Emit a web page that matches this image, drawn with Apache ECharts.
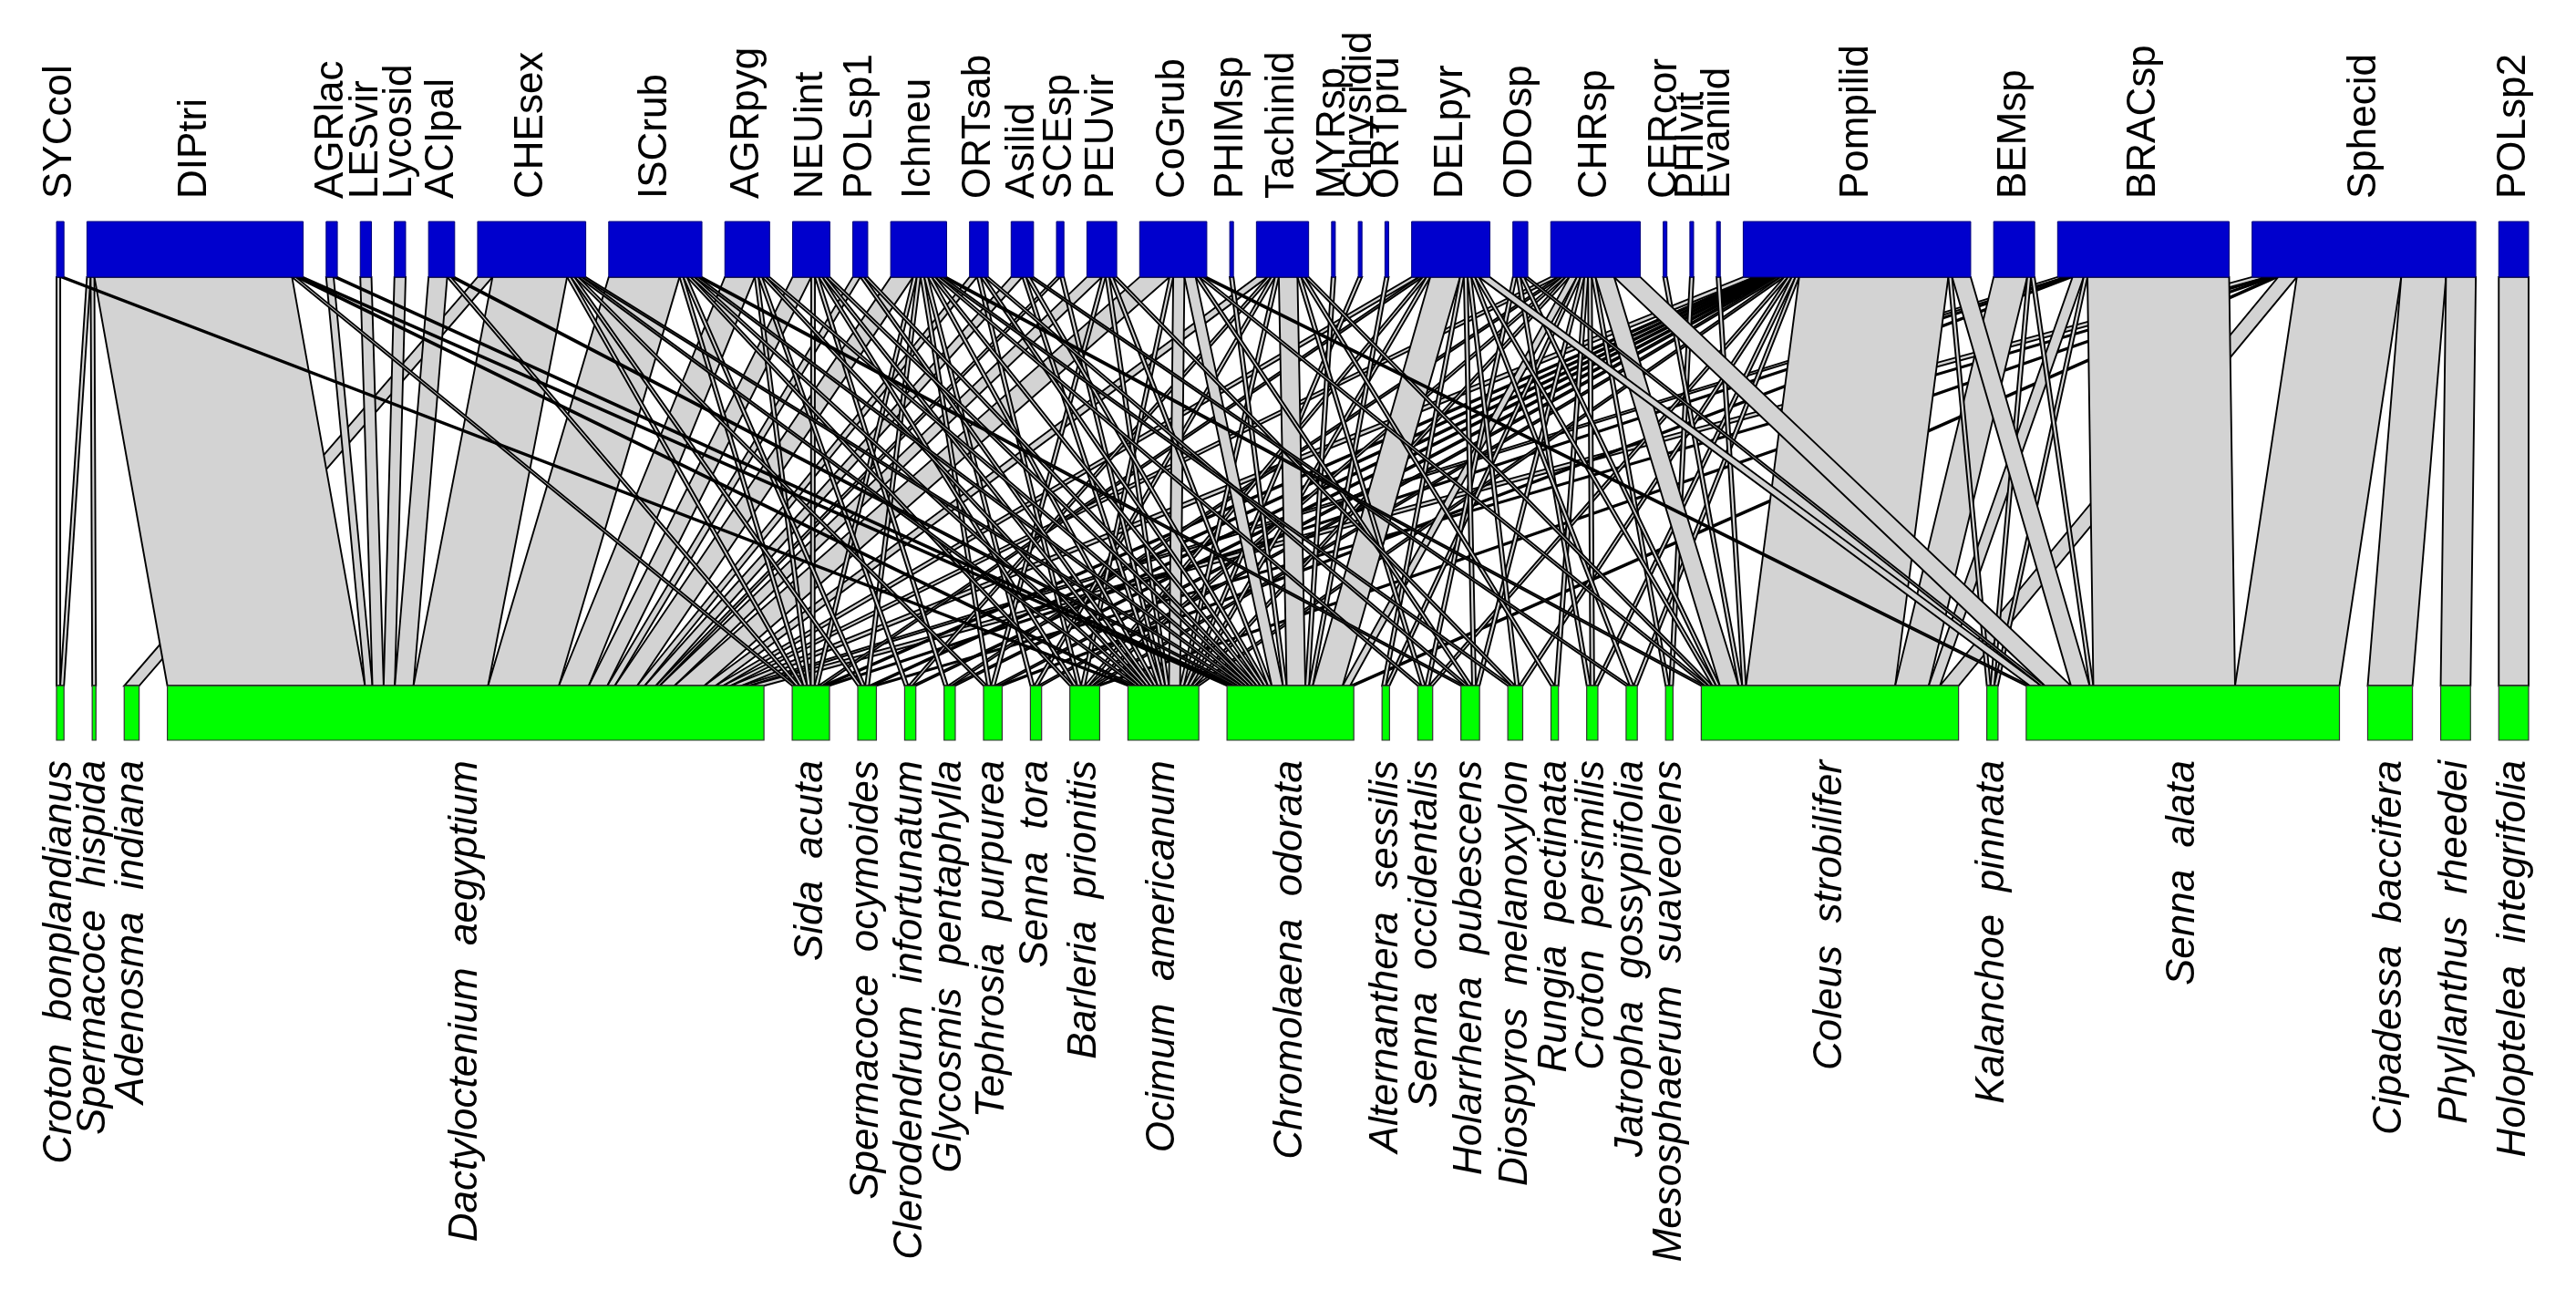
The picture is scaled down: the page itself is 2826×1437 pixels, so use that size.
<!DOCTYPE html>
<html><head><meta charset="utf-8">
<script src="https://cdn.jsdelivr.net/npm/echarts@6.0.0/dist/echarts.min.js"></script>
<style>html,body{margin:0;padding:0;background:#fff}#chart{width:2826px;height:1437px}</style>
</head><body><div id="chart"></div>
<script>
// Higher trophic level (visitors), left to right
const higherSpecies = ['SYCcol','DIPtri','AGRlac','LESvir','Lycosid','ACIpal','CHEsex','ISCrub','AGRpyg','NEUint','POLsp1','Ichneu','ORTsab','Asilid','SCEsp','PEUvir','CoGrub','PHIMsp','Tachinid','MYRsp','Chrysidid','ORTpru','DELpyr','ODOsp','CHRsp','CERcor','PHIvit','Evaniid','Pompilid','BEMsp','BRACsp','Sphecid','POLsp2'];
// Lower trophic level (plants), left to right
const lowerSpecies = ['Croton bonplandianus','Spermacoce hispida','Adenosma indiana','Dactyloctenium aegyptium','Sida acuta','Spermacoce ocymoides','Clerodendrum infortunatum','Glycosmis pentaphylla','Tephrosia purpurea','Senna tora','Barleria prionitis','Ocimum americanum','Chromolaena odorata','Alternanthera sessilis','Senna occidentalis','Holarrhena pubescens','Diospyros melanoxylon','Rungia pectinata','Croton persimilis','Jatropha gossypiifolia','Mesosphaerum suaveolens','Coleus strobilifer','Kalanchoe pinnata','Senna alata','Cipadessa baccifera','Phyllanthus rheedei','Holoptelea integrifolia'];
// Interactions: [visitor, plant, count]
const interactions = [
 ['SYCcol','Croton bonplandianus',1],['SYCcol','Ocimum americanum',1],
 ['DIPtri','Croton bonplandianus',1],['DIPtri','Spermacoce hispida',1],['DIPtri','Dactyloctenium aegyptium',53],['DIPtri','Sida acuta',1],['DIPtri','Ocimum americanum',1],['DIPtri','Chromolaena odorata',1],
 ['AGRlac','Dactyloctenium aegyptium',2],['AGRlac','Chromolaena odorata',1],
 ['LESvir','Dactyloctenium aegyptium',3],
 ['Lycosid','Dactyloctenium aegyptium',3],
 ['ACIpal','Dactyloctenium aegyptium',5],['ACIpal','Sida acuta',1],['ACIpal','Chromolaena odorata',1],
 ['CHEsex','Adenosma indiana',4],['CHEsex','Dactyloctenium aegyptium',20],['CHEsex','Sida acuta',1],['CHEsex','Spermacoce ocymoides',1],['CHEsex','Tephrosia purpurea',1],['CHEsex','Ocimum americanum',1],['CHEsex','Chromolaena odorata',1],
 ['ISCrub','Dactyloctenium aegyptium',19],['ISCrub','Sida acuta',1],['ISCrub','Spermacoce ocymoides',1],['ISCrub','Barleria prionitis',1],['ISCrub','Ocimum americanum',1],['ISCrub','Chromolaena odorata',1],['ISCrub','Holarrhena pubescens',1],
 ['AGRpyg','Dactyloctenium aegyptium',8],['AGRpyg','Sida acuta',1],['AGRpyg','Clerodendrum infortunatum',1],['AGRpyg','Ocimum americanum',1],['AGRpyg','Chromolaena odorata',1],
 ['NEUint','Dactyloctenium aegyptium',5],['NEUint','Sida acuta',1],['NEUint','Glycosmis pentaphylla',1],['NEUint','Barleria prionitis',1],['NEUint','Ocimum americanum',1],['NEUint','Chromolaena odorata',1],
 ['POLsp1','Dactyloctenium aegyptium',2],['POLsp1','Ocimum americanum',1],['POLsp1','Chromolaena odorata',1],
 ['Ichneu','Dactyloctenium aegyptium',6],['Ichneu','Sida acuta',1],['Ichneu','Spermacoce ocymoides',1],['Ichneu','Tephrosia purpurea',1],['Ichneu','Senna tora',1],['Ichneu','Ocimum americanum',1],['Ichneu','Chromolaena odorata',1],['Ichneu','Senna occidentalis',1],['Ichneu','Diospyros melanoxylon',1],['Ichneu','Coleus strobilifer',1],
 ['ORTsab','Dactyloctenium aegyptium',2],['ORTsab','Barleria prionitis',1],['ORTsab','Chromolaena odorata',1],['ORTsab','Holarrhena pubescens',1],
 ['Asilid','Dactyloctenium aegyptium',3],['Asilid','Ocimum americanum',1],['Asilid','Chromolaena odorata',1],['Asilid','Jatropha gossypiifolia',1],
 ['SCEsp','Dactyloctenium aegyptium',1],['SCEsp','Ocimum americanum',1],
 ['PEUvir','Dactyloctenium aegyptium',4],['PEUvir','Tephrosia purpurea',1],['PEUvir','Ocimum americanum',1],['PEUvir','Chromolaena odorata',1],['PEUvir','Diospyros melanoxylon',1],
 ['CoGrub','Dactyloctenium aegyptium',8],['CoGrub','Barleria prionitis',1],['CoGrub','Ocimum americanum',3],['CoGrub','Chromolaena odorata',3],['CoGrub','Holarrhena pubescens',1],['CoGrub','Coleus strobilifer',1],['CoGrub','Senna alata',1],
 ['PHIMsp','Chromolaena odorata',1],
 ['Tachinid','Dactyloctenium aegyptium',3],['Tachinid','Clerodendrum infortunatum',1],['Tachinid','Senna tora',1],['Tachinid','Ocimum americanum',1],['Tachinid','Chromolaena odorata',5],['Tachinid','Senna occidentalis',1],['Tachinid','Rungia pectinata',1],['Tachinid','Coleus strobilifer',1],
 ['MYRsp','Chromolaena odorata',1],
 ['Chrysidid','Ocimum americanum',1],
 ['ORTpru','Chromolaena odorata',1],
 ['DELpyr','Dactyloctenium aegyptium',2],['DELpyr','Sida acuta',1],['DELpyr','Barleria prionitis',1],['DELpyr','Ocimum americanum',1],['DELpyr','Chromolaena odorata',8],['DELpyr','Alternanthera sessilis',1],['DELpyr','Holarrhena pubescens',1],['DELpyr','Diospyros melanoxylon',1],['DELpyr','Jatropha gossypiifolia',1],['DELpyr','Coleus strobilifer',1],['DELpyr','Senna alata',3],
 ['ODOsp','Senna occidentalis',1],['ODOsp','Croton persimilis',1],['ODOsp','Coleus strobilifer',1],['ODOsp','Senna alata',1],
 ['CHRsp','Dactyloctenium aegyptium',2],['CHRsp','Glycosmis pentaphylla',1],['CHRsp','Barleria prionitis',1],['CHRsp','Ocimum americanum',1],['CHRsp','Chromolaena odorata',2],['CHRsp','Alternanthera sessilis',1],['CHRsp','Holarrhena pubescens',1],['CHRsp','Rungia pectinata',1],['CHRsp','Croton persimilis',1],['CHRsp','Mesosphaerum suaveolens',1],['CHRsp','Coleus strobilifer',5],['CHRsp','Senna alata',7],
 ['CERcor','Coleus strobilifer',1],
 ['PHIvit','Mesosphaerum suaveolens',1],
 ['Evaniid','Coleus strobilifer',1],
 ['Pompilid','Dactyloctenium aegyptium',3],['Pompilid','Sida acuta',1],['Pompilid','Spermacoce ocymoides',1],['Pompilid','Clerodendrum infortunatum',1],['Pompilid','Glycosmis pentaphylla',1],['Pompilid','Tephrosia purpurea',1],['Pompilid','Senna tora',1],['Pompilid','Barleria prionitis',1],['Pompilid','Ocimum americanum',1],['Pompilid','Senna occidentalis',1],['Pompilid','Diospyros melanoxylon',1],['Pompilid','Croton persimilis',1],['Pompilid','Jatropha gossypiifolia',1],['Pompilid','Coleus strobilifer',40],['Pompilid','Kalanchoe pinnata',1],['Pompilid','Senna alata',5],
 ['BEMsp','Coleus strobilifer',9],['BEMsp','Kalanchoe pinnata',1],['BEMsp','Senna alata',1],
 ['BRACsp','Dactyloctenium aegyptium',2],['BRACsp','Sida acuta',1],['BRACsp','Tephrosia purpurea',1],['BRACsp','Coleus strobilifer',3],['BRACsp','Kalanchoe pinnata',1],['BRACsp','Senna alata',38],
 ['Sphecid','Dactyloctenium aegyptium',4],['Sphecid','Spermacoce ocymoides',1],['Sphecid','Barleria prionitis',1],['Sphecid','Chromolaena odorata',1],['Sphecid','Coleus strobilifer',5],['Sphecid','Senna alata',28],['Sphecid','Cipadessa baccifera',12],['Sphecid','Phyllanthus rheedei',8],
 ['POLsp2','Holoptelea integrifolia',8]
];

// ---- layout constants (not data) ----
const SPAN_RATIO = 1.4227;          // total axis span relative to total interactions (leaves room for gaps)
const Y_HIGH_TOP = 1, Y_HIGH_BOT = 0.893, Y_LOW_TOP = 0.105, Y_LOW_BOT = 0;
const HIGH_COLOR = '#0000CD', LOW_COLOR = '#00FF00', LINK_COLOR = '#D3D3D3';

const nH = higherSpecies.length, nL = lowerSpecies.length;
const hIdx = {}, lIdx = {};
higherSpecies.forEach((n, i) => hIdx[n] = i);
lowerSpecies.forEach((n, i) => lIdx[n] = i);
const links = interactions.map(([h, l, v]) => ({ h: hIdx[h], l: lIdx[l], v }));
const hTot = new Array(nH).fill(0), lTot = new Array(nL).fill(0);
links.forEach(k => { hTot[k.h] += k.v; lTot[k.l] += k.v; });
const total = hTot.reduce((a, b) => a + b, 0);
const SPAN = total * SPAN_RATIO;
const gapH = (SPAN - total) / (nH - 1), gapL = (SPAN - lTot.reduce((a, b) => a + b, 0)) / (nL - 1);
const hStart = [], lStart = [];
let acc = 0; for (let i = 0; i < nH; i++) { hStart.push(acc); acc += hTot[i] + gapH; }
acc = 0; for (let j = 0; j < nL; j++) { lStart.push(acc); acc += lTot[j] + gapL; }
const hOff = hStart.slice();
links.slice().sort((a, b) => a.h - b.h || a.l - b.l).forEach(k => { k.hx0 = hOff[k.h]; hOff[k.h] += k.v; k.hx1 = hOff[k.h]; });
const lOff = lStart.slice();
const drawOrder = links.slice().sort((a, b) => a.l - b.l || a.h - b.h);
drawOrder.forEach(k => { k.lx0 = lOff[k.l]; lOff[k.l] += k.v; k.lx1 = lOff[k.l]; });

const chart = echarts.init(document.getElementById('chart'), null, { renderer: 'canvas' });
chart.setOption({
  animation: false,
  backgroundColor: '#ffffff',
  grid: { left: 62, right: 52, top: 243, bottom: 625 },
  xAxis: { type: 'value', min: 0, max: SPAN, show: false },
  yAxis: { type: 'value', min: 0, max: 1, show: false },
  series: [
    {
      type: 'custom', name: 'links', clip: false,
      dimensions: ['hx0', 'hx1', 'lx0', 'lx1'],
      encode: { x: [0, 1, 2, 3] },
      data: drawOrder.map(k => [k.hx0, k.hx1, k.lx0, k.lx1]),
      renderItem: (params, api) => {
        const pts = [
          api.coord([api.value(0), Y_HIGH_BOT]), api.coord([api.value(1), Y_HIGH_BOT]),
          api.coord([api.value(3), Y_LOW_TOP]), api.coord([api.value(2), Y_LOW_TOP])
        ];
        return { type: 'polygon', shape: { points: pts }, style: { fill: LINK_COLOR, stroke: '#000', lineWidth: 1.9 } };
      }
    },
    {
      type: 'custom', name: 'higher', clip: false,
      encode: { x: [0, 1] },
      data: higherSpecies.map((n, i) => [hStart[i], hStart[i] + hTot[i]]),
      renderItem: (params, api) => {
        const p0 = api.coord([api.value(0), Y_HIGH_TOP]), p1 = api.coord([api.value(1), Y_HIGH_BOT]);
        const cx = (p0[0] + p1[0]) / 2;
        return { type: 'group', children: [
          { type: 'rect', shape: { x: p0[0], y: p0[1], width: Math.max(p1[0] - p0[0], 1), height: p1[1] - p0[1] },
            style: { fill: HIGH_COLOR, stroke: '#00007a', lineWidth: 1 } },
          { type: 'text', x: cx, y: p0[1] - 25, rotation: Math.PI / 2,
            style: { text: higherSpecies[params.dataIndex], font: '44px "Liberation Sans", Arial, sans-serif', fill: '#000', align: 'left', verticalAlign: 'middle' } }
        ] };
      }
    },
    {
      type: 'custom', name: 'lower', clip: false,
      encode: { x: [0, 1] },
      data: lowerSpecies.map((n, j) => [lStart[j], lStart[j] + lTot[j]]),
      renderItem: (params, api) => {
        const p0 = api.coord([api.value(0), Y_LOW_TOP]), p1 = api.coord([api.value(1), Y_LOW_BOT]);
        const cx = (p0[0] + p1[0]) / 2;
        return { type: 'group', children: [
          { type: 'rect', shape: { x: p0[0], y: p0[1], width: Math.max(p1[0] - p0[0], 1), height: p1[1] - p0[1] },
            style: { fill: LOW_COLOR, stroke: '#333', lineWidth: 1.2 } },
          { type: 'text', x: cx, y: p1[1] + 22, rotation: Math.PI / 2,
            style: { text: lowerSpecies[params.dataIndex].replace(' ', '  '), font: 'italic 44px "Liberation Sans", Arial, sans-serif', fill: '#000', align: 'right', verticalAlign: 'middle' } }
        ] };
      }
    }
  ]
});
</script></body></html>
